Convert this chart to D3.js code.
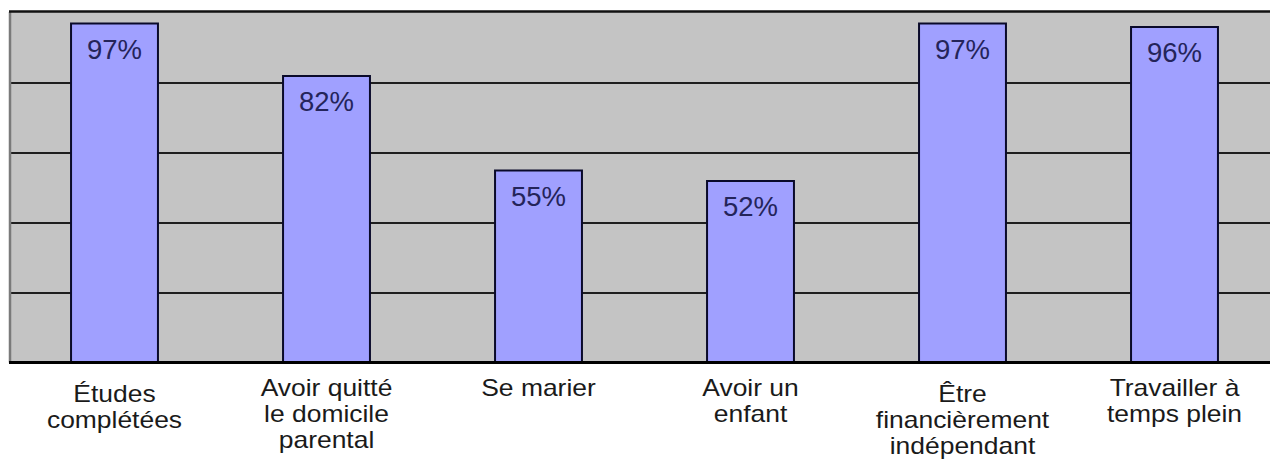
<!DOCTYPE html>
<html>
<head>
<meta charset="utf-8">
<script src="https://cdn.jsdelivr.net/npm/d3@7"></script>
<style>
  body { margin: 0; background: #fff; }
  svg { display: block; }
  text { font-family: "Liberation Sans", Arial, sans-serif; }
</style>
</head>
<body>
<svg id="chart" width="1270" height="463"></svg>
<script>
// data
var categories = ["etudes", "domicile", "marier", "enfant", "financier", "travail"];
var labelLines = [
  ["Études", "complétées"],
  ["Avoir quitté", "le domicile", "parental"],
  ["Se marier"],
  ["Avoir un", "enfant"],
  ["Être", "financièrement", "indépendant"],
  ["Travailler à", "temps plein"]
];
var values = [97, 82, 55, 52, 97, 96];
var gridTicks = [20, 40, 60, 80];

var plot = {left: 9, right: 1281, top: 12, bottom: 362.5};

var svg = d3.select("#chart");

var x = d3.scaleBand()
  .domain(categories)
  .range([8.5, 1280.5])
  .paddingInner(0.59)
  .paddingOuter(0.295);

var y = d3.scaleLinear()
  .domain([0, 100])
  .range([363, 13]);

// plot background
svg.append("rect")
  .attr("x", plot.left)
  .attr("y", plot.top)
  .attr("width", plot.right - plot.left)
  .attr("height", plot.bottom - plot.top)
  .attr("fill", "#c4c4c4");

// horizontal gridlines
svg.append("g")
  .selectAll("line")
  .data(gridTicks)
  .join("line")
  .attr("x1", plot.left + 2)
  .attr("x2", plot.right)
  .attr("y1", d => y(d))
  .attr("y2", d => y(d))
  .attr("stroke", "#1e1e1e")
  .attr("stroke-width", 2);

// left border (gray) and top border (black)
svg.append("line")
  .attr("x1", plot.left + 1).attr("x2", plot.left + 1)
  .attr("y1", plot.top).attr("y2", plot.bottom)
  .attr("stroke", "#7a7a7a")
  .attr("stroke-width", 2.5);
svg.append("line")
  .attr("x1", plot.left).attr("x2", plot.right)
  .attr("y1", plot.top - 0.5).attr("y2", plot.top - 0.5)
  .attr("stroke", "#111")
  .attr("stroke-width", 2.5);

// bars
svg.append("g")
  .selectAll("rect")
  .data(values)
  .join("rect")
  .attr("x", (d, i) => x(categories[i]))
  .attr("y", d => y(d))
  .attr("width", x.bandwidth())
  .attr("height", d => y(0) - y(d))
  .attr("fill", "#a0a0ff")
  .attr("stroke", "#0a0a2a")
  .attr("stroke-width", 2);

// value labels inside the bars
svg.append("g")
  .selectAll("text")
  .data(values)
  .join("text")
  .attr("x", (d, i) => x(categories[i]) + x.bandwidth() / 2)
  .attr("y", d => y(d) + 35)
  .attr("text-anchor", "middle")
  .attr("font-size", "27.5px")
  .attr("fill", "#24245a")
  .text(d => d + "%");

// bottom axis
svg.append("line")
  .attr("x1", plot.left).attr("x2", plot.right)
  .attr("y1", plot.bottom).attr("y2", plot.bottom)
  .attr("stroke", "#000")
  .attr("stroke-width", 3);

// category labels, wrapped; the source text looks a bit stretched sideways,
// and first lines with an accented capital sit a bit lower
var labels = svg.append("g")
  .selectAll("text")
  .data(categories)
  .join("text")
  .attr("text-anchor", "middle")
  .attr("font-size", "23px")
  .attr("fill", "#1a1a1a")
  .attr("transform", (d, i) => {
    var shift = /^[ÉÊÈÀ]/.test(labelLines[i][0]) ? 6 : 0;
    return `translate(${x(d) + x.bandwidth() / 2}, ${396 + shift}) scale(1.15, 1)`;
  });

labels.each(function (d, i) {
  d3.select(this).selectAll("tspan")
    .data(labelLines[i])
    .join("tspan")
    .attr("x", 0)
    .attr("dy", (t, j) => j == 0 ? 0 : 26)
    .text(t => t);
});
</script>
</body>
</html>
